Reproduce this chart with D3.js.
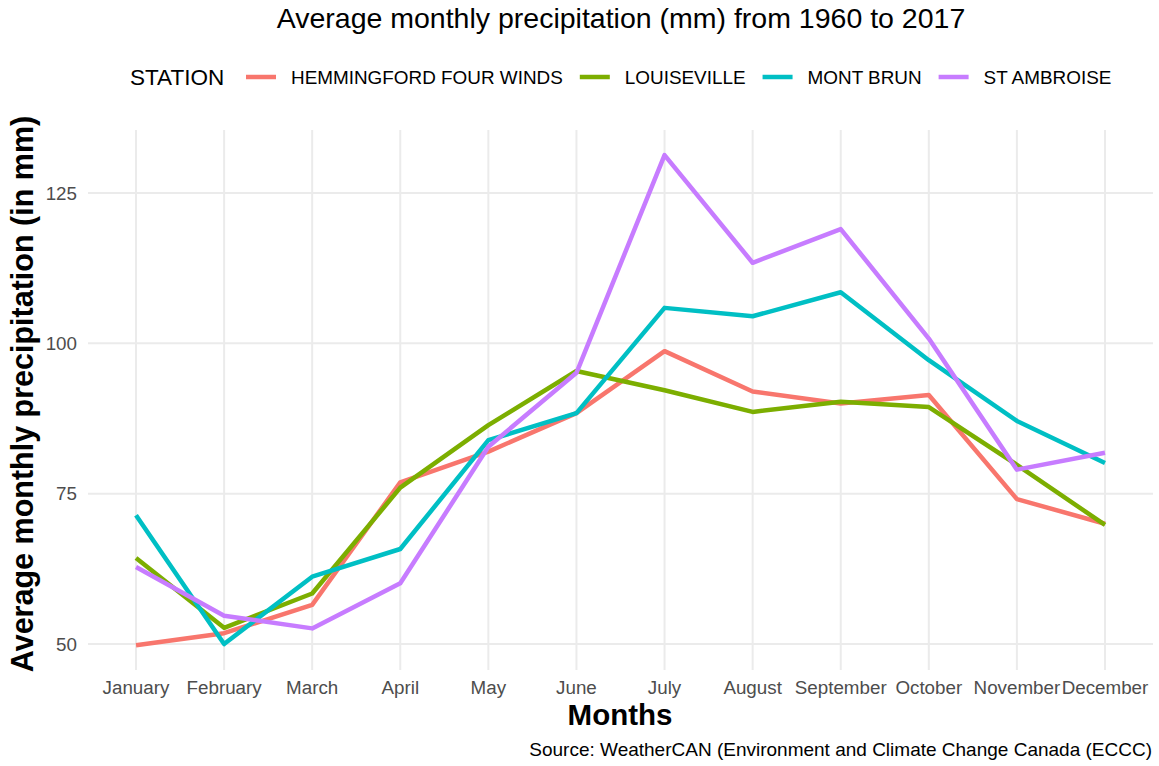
<!DOCTYPE html>
<html>
<head>
<meta charset="utf-8">
<style>
  body { margin: 0; background: #fff; }
  svg text { font-family: "Liberation Sans", Arial, sans-serif; }
  .grid line { stroke: #ebebeb; stroke-width: 2; }
  .tick-label { fill: #4d4d4d; font-size: 18.8px; }
</style>
</head>
<body>
<svg width="1159" height="766"></svg>
<script src="https://cdn.jsdelivr.net/npm/d3@7"></script>
<script>
var months = ["January", "February", "March", "April", "May", "June",
              "July", "August", "September", "October", "November", "December"];
var stations = ["HEMMINGFORD FOUR WINDS", "LOUISEVILLE", "MONT BRUN", "ST AMBROISE"];
var colors = ["#F8766D", "#7CAE00", "#00BFC4", "#C77CFF"];
var yTicks = [50, 75, 100, 125];

// average monthly precipitation (mm)
var hemmingford = [49.8, 51.8, 56.5, 76.9, 82.0, 88.4, 98.7, 92.0, 90.0, 91.4, 74.1, 70.0];
var louiseville = [64.3, 52.7, 58.4, 76.0, 86.4, 95.4, 92.2, 88.6, 90.3, 89.4, 79.8, 69.8];
var montBrun    = [71.4, 50.0, 61.2, 65.8, 83.9, 88.4, 105.9, 104.5, 108.5, 97.2, 87.1, 80.1];
var stAmbroise  = [62.8, 54.7, 52.6, 60.1, 82.8, 95.1, 131.3, 113.4, 119.0, 100.8, 79.0, 81.8];
var series = [hemmingford, louiseville, montBrun, stAmbroise];

var svg = d3.select("svg"),
    panel = {left: 88, right: 1153, top: 130, bottom: 670};

var x = d3.scalePoint()
    .domain(months)
    .range([panel.left, panel.right])
    .padding(0.545);

var y = d3.scaleLinear()
    .domain([45.68, 135.48])
    .range([panel.bottom, panel.top]);

// grid
var grid = svg.append("g").attr("class", "grid");
grid.selectAll(".hg").data(yTicks).enter().append("line")
    .attr("x1", panel.left).attr("x2", panel.right)
    .attr("y1", function(d) { return y(d); })
    .attr("y2", function(d) { return y(d); });
grid.selectAll(".vg").data(months).enter().append("line")
    .attr("x1", function(d) { return x(d); })
    .attr("x2", function(d) { return x(d); })
    .attr("y1", panel.top).attr("y2", panel.bottom);

// tick labels
svg.append("g").selectAll("text").data(yTicks).enter().append("text")
    .attr("class", "tick-label")
    .attr("x", 77)
    .attr("y", function(d) { return y(d); })
    .attr("dy", "0.35em")
    .attr("text-anchor", "end")
    .text(function(d) { return d; });

svg.append("g").selectAll("text").data(months).enter().append("text")
    .attr("class", "tick-label")
    .attr("x", function(d) { return x(d); })
    .attr("y", 694)
    .attr("text-anchor", "middle")
    .text(function(d) { return d; });

// lines
var line = d3.line()
    .x(function(d, i) { return x(months[i]); })
    .y(function(d) { return y(d); });

svg.append("g").selectAll("path").data(series).enter().append("path")
    .attr("d", line)
    .attr("fill", "none")
    .attr("stroke", function(d, i) { return colors[i]; })
    .attr("stroke-width", 4.5)
    .attr("stroke-linejoin", "round");

// titles
svg.append("text")
    .attr("x", 621).attr("y", 28)
    .attr("text-anchor", "middle")
    .style("font-size", "28.5px")
    .text("Average monthly precipitation (mm) from 1960 to 2017");

svg.append("text")
    .attr("x", 620).attr("y", 725)
    .attr("text-anchor", "middle")
    .style("font-size", "29.5px")
    .style("font-weight", "bold")
    .text("Months");

svg.append("text")
    .attr("transform", "translate(33,394) rotate(-90)")
    .attr("text-anchor", "middle")
    .style("font-size", "30.5px")
    .style("font-weight", "bold")
    .text("Average monthly precipitation (in mm)");

svg.append("text")
    .attr("x", 1152).attr("y", 756)
    .attr("text-anchor", "end")
    .style("font-size", "19px")
    .text("Source: WeatherCAN (Environment and Climate Change Canada (ECCC)");

// legend
var legend = svg.append("g");
legend.append("text")
    .attr("x", 130).attr("y", 85)
    .style("font-size", "22.5px")
    .text("STATION");

var lx = 246;
stations.forEach(function(s, i) {
  legend.append("line")
      .attr("x1", lx).attr("x2", lx + 30)
      .attr("y1", 77).attr("y2", 77)
      .attr("stroke", colors[i])
      .attr("stroke-width", 4.5);
  var t = legend.append("text")
      .attr("x", lx + 45).attr("y", 84)
      .style("font-size", "18.9px")
      .text(s);
  lx = lx + 45 + t.node().getComputedTextLength() + 17;
});
</script>
</body>
</html>
